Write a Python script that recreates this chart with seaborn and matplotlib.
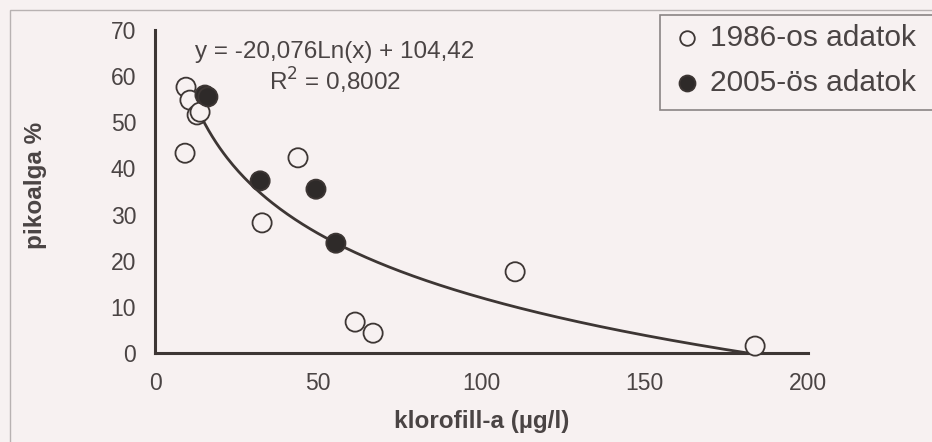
import numpy as np
import pandas as pd
import matplotlib
matplotlib.use("Agg")
import matplotlib.pyplot as plt
import seaborn as sns
from matplotlib.patches import Rectangle
from matplotlib.lines import Line2D

# Data
x_1986 = [9.5, 10.7, 12.9, 13.8, 9.2, 43.8, 32.8, 110.3, 61.3, 66.8, 183.8]
y_1986 = [57.6, 54.8, 51.6, 52.2, 43.3, 42.3, 28.2, 17.6, 6.7, 4.3, 1.5]
x_2005 = [15.3, 16.2, 32.2, 49.3, 55.4]
y_2005 = [55.9, 55.5, 37.3, 35.5, 23.8]
series_names = ["1986-os adatok", "2005-ös adatok"]
fit_a, fit_b = -20.076, 104.42
fit_x_range = [9.5, 181.5]
x_ticks = [0, 50, 100, 150, 200]
y_ticks = [0, 10, 20, 30, 40, 50, 60, 70]

df = pd.DataFrame({
    "x": x_1986 + x_2005,
    "y": y_1986 + y_2005,
    "series": [series_names[0]] * len(x_1986) + [series_names[1]] * len(x_2005),
})
xs = np.linspace(fit_x_range[0], fit_x_range[1], 300)
fit_df = pd.DataFrame({"x": xs, "y": fit_a * np.log(xs) + fit_b})

sns.set_style("white")
plt.rcParams["font.family"] = ["Liberation Sans", "DejaVu Sans"]

bg = "#f7f1f1"
ink = "#3d3634"
txt = "#4a4444"

fig = plt.figure(figsize=(9.32, 4.42), dpi=100, facecolor=bg)
W, H = 932, 442
ax = fig.add_axes([155 / W, (H - 353) / H, (808 - 155) / W, (353 - 30) / H])
ax.set_facecolor(bg)

fig.patches.append(Rectangle((10 / W, -0.1), 1.2, (H - 10) / H + 0.1, transform=fig.transFigure,
                             fill=False, edgecolor="#b8b2b2", linewidth=1.0, zorder=0))

sns.lineplot(data=fit_df, x="x", y="y", ax=ax, color=ink, linewidth=2.0, zorder=2, legend=False)
sns.scatterplot(data=df, x="x", y="y", hue="series", style="series",
                palette={series_names[0]: bg, series_names[1]: "#2e2a29"},
                markers={series_names[0]: "o", series_names[1]: "o"},
                s=190, edgecolor=ink, linewidth=1.3, ax=ax, zorder=3, legend=False, clip_on=False)

ax.set_xlim(0, 200)
ax.set_ylim(0, 70)
ax.set_xticks(x_ticks)
ax.set_yticks(y_ticks)
for s in ["top", "right"]:
    ax.spines[s].set_visible(False)
for s in ["left", "bottom"]:
    ax.spines[s].set_color(ink)
    ax.spines[s].set_linewidth(2.2)
ax.tick_params(direction="inout", length=9, width=2.0, color=ink, labelsize=16.5,
               labelcolor=txt, pad=9)
ax.set_xlabel("klorofill-a (µg/l)", fontsize=17.5, fontweight="bold", color=txt, labelpad=11)
ax.set_ylabel("pikoalga %", fontsize=17.5, fontweight="bold", color=txt)
ax.yaxis.set_label_coords((47 - 155) / (808 - 155), 0.52)

fig.text(335 / W, (H - 52) / H, "y = -20,076Ln(x) + 104,42",
         ha="center", va="center", fontsize=17.5, color=txt)
fig.text(335 / W, (H - 81) / H, "R$^2$ = 0,8002",
         ha="center", va="center", fontsize=17.5, color=txt)

# legend
fig.patches.append(Rectangle((660 / W, (H - 110) / H), 1.0, 95 / H, transform=fig.transFigure,
                             fill=True, facecolor=bg, edgecolor="#8a8484", linewidth=1.2, zorder=5))
fig.lines.append(Line2D([687 / W], [(H - 38) / H], marker="o", markersize=10.5, markerfacecolor=bg,
                        markeredgecolor=ink, markeredgewidth=1.3, transform=fig.transFigure, zorder=6))
fig.lines.append(Line2D([687 / W], [(H - 83) / H], marker="o", markersize=11.5, markerfacecolor="#2e2a29",
                        markeredgecolor=ink, markeredgewidth=1.3, transform=fig.transFigure, zorder=6))
fig.text(710 / W, (H - 38) / H, series_names[0], fontsize=21.5, color=txt, va="center", ha="left", zorder=7)
fig.text(710 / W, (H - 83) / H, series_names[1], fontsize=21.5, color=txt, va="center", ha="left", zorder=7)

fig.savefig("out.png", dpi=100, facecolor=bg)
